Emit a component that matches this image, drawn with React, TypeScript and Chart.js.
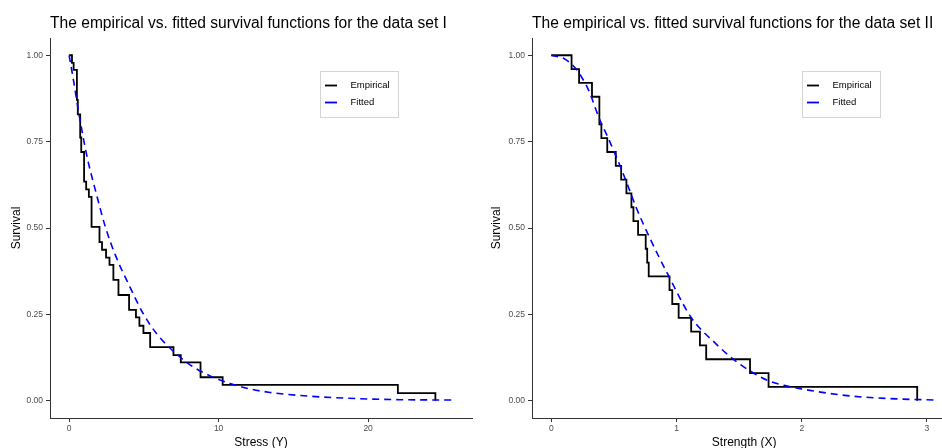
import React, { useEffect, useRef } from "react";
import { Chart, registerables } from "chart.js";

Chart.register(...registerables);

// ---------- data: data set I (stress) ----------
const stressJumpT = [0, 0.19, 0.3, 0.52, 0.58, 0.74, 0.81, 1.0, 1.14, 1.32, 1.5, 2.03, 2.2, 2.47, 2.7, 2.96, 3.3, 4.01, 4.47, 4.7, 4.97, 5.42, 6.98, 7.47, 8.79, 10.27, 21.99, 24.5];
const stressEmpS = [1, 0.978, 0.958, 0.871, 0.829, 0.762, 0.72, 0.634, 0.612, 0.59, 0.503, 0.459, 0.437, 0.414, 0.393, 0.35, 0.306, 0.263, 0.241, 0.217, 0.196, 0.155, 0.132, 0.111, 0.068, 0.046, 0.022, 0];
const stressFitT = [0, 0.3, 0.62, 1.18, 1.85, 2.41, 3.08, 4.08, 4.97, 5.87, 6.76, 8.09, 9.43, 10.77, 12.1, 13.44, 15.5, 17.7, 20, 22.1, 25.7];
const stressFitS = [1, 0.925, 0.84, 0.71, 0.594, 0.505, 0.423, 0.328, 0.251, 0.193, 0.152, 0.104, 0.072, 0.05, 0.034, 0.024, 0.015, 0.009, 0.005, 0.003, 0.002];

// ---------- data: data set II (strength) ----------
const strengthJumpT = [0, 0.162, 0.222, 0.325, 0.384, 0.4, 0.447, 0.515, 0.558, 0.6, 0.64, 0.656, 0.693, 0.754, 0.766, 0.778, 0.944, 0.966, 1.017, 1.117, 1.187, 1.237, 1.587, 1.735, 2.922];
const strengthEmpS = [1, 0.96, 0.92, 0.88, 0.8, 0.76, 0.72, 0.68, 0.64, 0.6, 0.56, 0.52, 0.48, 0.44, 0.4, 0.36, 0.32, 0.28, 0.24, 0.2, 0.16, 0.12, 0.08, 0.04, 0];
const strengthFitT = [0, 0.104, 0.184, 0.25, 0.304, 0.384, 0.451, 0.531, 0.611, 0.677, 0.784, 0.939, 1.117, 1.317, 1.45, 1.584, 1.733, 1.877, 2.064, 2.38, 2.78, 3.08];
const strengthFitS = [1, 0.99, 0.966, 0.932, 0.894, 0.816, 0.763, 0.696, 0.623, 0.56, 0.473, 0.36, 0.241, 0.164, 0.121, 0.087, 0.058, 0.043, 0.03, 0.014, 0.005, 0.002];

// ---------- ticks & labels ----------
const yTicks = [0, 0.25, 0.5, 0.75, 1];
const yTickLabels = ["0.00", "0.25", "0.50", "0.75", "1.00"];
const stressXTicks = [0, 10, 20];
const strengthXTicks = [0, 1, 2, 3];
const seriesLabels = ["Empirical", "Fitted"];
const panelTitles = [
  "The empirical vs. fitted survival functions for the data set I",
  "The empirical vs. fitted survival functions for the data set II",
];
const xAxisTitles = ["Stress (Y)", "Strength (X)"];
const yAxisTitle = "Survival";

const FONT = '"Liberation Sans", Arial, sans-serif';

type PanelProps = {
  left: number;
  width: number;
  yAxisWidth: number;
  rightPad: number;
  xMin: number;
  xMax: number;
  xTitleCenter: number;
  xTicks: number[];
  empT: number[];
  empS: number[];
  fitT: number[];
  fitS: number[];
  title: string;
  xTitle: string;
};

function Panel(p: PanelProps) {
  const ref = useRef<HTMLCanvasElement | null>(null);
  useEffect(() => {
    if (!ref.current) return;
    const decor = {
      id: "decor",
      afterDraw(chart: any) {
        const ctx = chart.ctx as CanvasRenderingContext2D;
        const a = chart.chartArea;
        ctx.save();
        // title
        ctx.fillStyle = "#000";
        ctx.font = `15.6px ${FONT}`;
        ctx.textAlign = "left";
        ctx.textBaseline = "alphabetic";
        ctx.fillText(p.title, a.left, 28);
        // x title
        ctx.font = `12px ${FONT}`;
        ctx.textAlign = "center";
        const cx = chart.scales.x.getPixelForValue(p.xTitleCenter);
        ctx.fillText(p.xTitle, cx, 446);
        // y title
        ctx.save();
        ctx.translate(17, (a.top + a.bottom) / 2);
        ctx.rotate(-Math.PI / 2);
        ctx.textBaseline = "middle";
        ctx.fillText(yAxisTitle, 0, 0);
        ctx.restore();
        // legend
        const lx = a.left + 270;
        const ly = 71;
        ctx.fillStyle = "#fff";
        ctx.fillRect(lx, ly, 78, 46);
        ctx.strokeStyle = "#d4d4d4";
        ctx.lineWidth = 1;
        ctx.strokeRect(lx + 0.5, ly + 0.5, 78, 46);
        const colors = ["#000000", "#0000ff"];
        const ys = [ly + 14.5, ly + 31.5];
        ctx.font = `9.5px ${FONT}`;
        ctx.textAlign = "left";
        ctx.textBaseline = "middle";
        seriesLabels.forEach((lab, i) => {
          ctx.strokeStyle = colors[i];
          ctx.lineWidth = 1.8;
          ctx.beginPath();
          ctx.moveTo(lx + 5, ys[i]);
          ctx.lineTo(lx + 17, ys[i]);
          ctx.stroke();
          ctx.fillStyle = "#000";
          ctx.fillText(lab, lx + 30.5, ys[i]);
        });
        ctx.restore();
      },
    };

    const chart = new Chart(ref.current, {
      type: "line",
      data: {
        datasets: [
          {
            label: seriesLabels[0],
            data: p.empT.map((t, i) => ({ x: t, y: p.empS[i] })),
            borderColor: "#000000",
            borderWidth: 1.8,
            stepped: true,
            pointRadius: 0,
            fill: false,
            order: 2,
          },
          {
            label: seriesLabels[1],
            data: p.fitT.map((t, i) => ({ x: t, y: p.fitS[i] })),
            borderColor: "#0000ff",
            borderWidth: 1.6,
            borderDash: [7, 5],
            cubicInterpolationMode: "monotone",
            pointRadius: 0,
            fill: false,
            order: 1,
          },
        ],
      },
      options: {
        animation: false,
        responsive: false,
        maintainAspectRatio: false,
        layout: { padding: { top: 38, right: p.rightPad, left: 0, bottom: 0 } },
        plugins: { legend: { display: false }, tooltip: { enabled: false }, title: { display: false } },
        scales: {
          x: {
            type: "linear",
            min: p.xMin,
            max: p.xMax,
            afterBuildTicks: (s: any) => {
              s.ticks = p.xTicks.map((v) => ({ value: v }));
            },
            afterFit: (s: any) => {
              s.height = 30;
            },
            grid: { drawOnChartArea: false, drawTicks: true, tickLength: 4, color: "#333" },
            border: { display: true, color: "#333", width: 1 },
            ticks: {
              font: { family: FONT, size: 8.5 },
              color: "#4d4d4d",
              padding: 2,
              maxRotation: 0,
              autoSkip: false,
              callback: (v: any) => String(v),
            },
          },
          y: {
            type: "linear",
            min: -0.05,
            max: 1.05,
            afterBuildTicks: (s: any) => {
              s.ticks = yTicks.map((v) => ({ value: v }));
            },
            afterFit: (s: any) => {
              s.width = p.yAxisWidth;
            },
            grid: { drawOnChartArea: false, drawTicks: true, tickLength: 4, color: "#333" },
            border: { display: true, color: "#333", width: 1 },
            ticks: {
              font: { family: FONT, size: 8.5 },
              color: "#4d4d4d",
              padding: 3,
              autoSkip: false,
              callback: (v: any) => {
                const i = yTicks.indexOf(Number(v));
                return i >= 0 ? yTickLabels[i] : "";
              },
            },
          },
        },
      },
      plugins: [decor],
    } as any);
    return () => chart.destroy();
  }, []);
  return (
    <canvas
      ref={ref}
      width={p.width}
      height={448}
      style={{ position: "absolute", left: p.left, top: 0, width: p.width, height: 448 }}
    />
  );
}

export default function App() {
  return (
    <div style={{ position: "fixed", left: 0, top: 0, width: 942, height: 448, background: "#fff", overflow: "hidden" }}>
      <Panel
        left={0}
        width={480}
        yAxisWidth={50}
        rightPad={8}
        xMin={-1.28}
        xMax={26.95}
        xTitleCenter={12.835}
        xTicks={stressXTicks}
        empT={stressJumpT}
        empS={stressEmpS}
        fitT={stressFitT}
        fitS={stressFitS}
        title={panelTitles[0]}
        xTitle={xAxisTitles[0]}
      />
      <Panel
        left={480}
        width={462}
        yAxisWidth={52}
        rightPad={0}
        xMin={-0.154}
        xMax={3.12}
        xTitleCenter={1.54}
        xTicks={strengthXTicks}
        empT={strengthJumpT}
        empS={strengthEmpS}
        fitT={strengthFitT}
        fitS={strengthFitS}
        title={panelTitles[1]}
        xTitle={xAxisTitles[1]}
      />
    </div>
  );
}
